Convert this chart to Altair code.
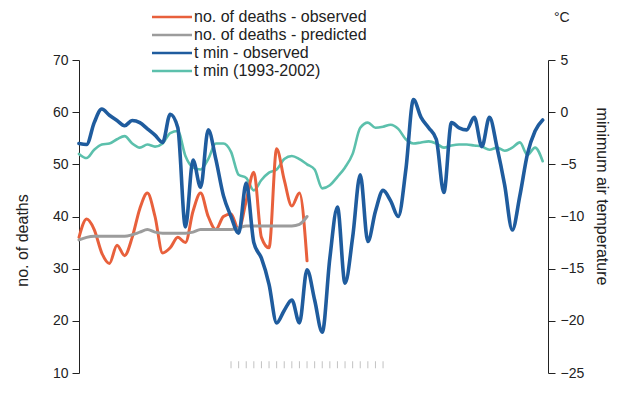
import altair as alt
import pandas as pd

# ---- data ----
series_names = ["no. of deaths - observed", "no. of deaths - predicted",
                "t min - observed", "t min (1993-2002)"]
series_colors = ["#E8603C", "#9C9C9C", "#1F5C9E", "#5CC0AC"]

# day index: 0 = 1-Dec
deaths_obs = [36, 39.5, 37.5, 33, 31, 34.5, 32.5, 36, 41.5, 44.5,
              40, 33, 34, 36, 35, 41, 44.5, 40, 37.5, 40,
              40.5, 37.5, 43, 48.5, 36, 34, 53, 47, 42, 44.5,
              31.5]
deaths_pred = [35.5, 36, 36.2, 36.2, 36.2, 36.2, 36.2, 36.5, 37, 37.5,
               37, 36.8, 36.8, 36.8, 36.8, 37, 37.5, 37.5, 37.5, 37.5,
               37.5, 37.8, 38.2, 38.2, 38.2, 38.2, 38.2, 38.2, 38.2, 38.5,
               40]
tmin_obs = [-3.0, -3.1, -1.0, 0.3, -0.3, -0.8, -1.3, -0.8, -1.0, -1.6,
            -2.2, -2.9, -0.2, -1.5, -11.0, -4.6, -7.2, -1.7, -4.5, -8.0,
            -10.0, -11.6, -6.8, -12.5, -14.0, -16.5, -20.2, -19.0, -18.0, -20.2,
            -15.1, -18.0, -21.1, -14.0, -9.1, -16.4, -12.0, -6.0, -12.4, -9.5,
            -7.5, -8.5, -10.0, -5.5, 1.2, -0.5, -1.5, -2.6, -7.7, -1.0,
            -1.5, -1.7, -0.5, -3.3, -0.5, -3.4, -7.0, -11.3, -8.0, -4.0,
            -1.8, -0.75]
tmin_norm = [-4.0, -4.4, -3.6, -3.1, -3.0, -2.6, -2.3, -3.0, -3.4, -3.1,
             -3.3, -3.0, -2.0, -1.8, -4.2, -5.3, -5.5, -4.5, -3.0, -3.0,
             -3.8, -6.0, -6.3, -7.5, -6.5, -5.8, -5.5, -4.5, -4.2, -4.5,
             -5.0, -5.5, -7.3, -7.0, -6.2, -5.3, -4.0, -1.5, -1.0, -1.5,
             -1.4, -1.2, -1.6, -2.6, -3.0, -2.9, -2.8, -3.0, -3.4, -3.2,
             -3.1, -3.1, -3.2, -3.3, -3.6, -3.4, -3.7, -3.4, -2.9, -4.1,
             -3.4, -4.7]

x_tick_days = [0, 10, 20, 30, 40, 50, 60]
x_tick_labels = ["1-Dec", "11-Dec", "21-Dec", "31-Dec", "10-Jan", "20-Jan", "30-Jan"]
deaths_ticks = [10, 20, 30, 40, 50, 60, 70]
temp_ticks = [-25, -20, -15, -10, -5, 0, 5]

period_start, period_end, period_top = 19.5, 41.0, 62.3
marker_days = [20, 21, 22, 23, 24, 25, 26, 27, 28, 29, 30,
               31, 32, 33, 34, 35, 36, 37, 38, 39, 40]
marker_level = 11.6

X_DOMAIN = [0, 61.7]
D_DOMAIN = [10, 70]
T_DOMAIN = [-25, 5]
FONT = "Liberation Sans"


def frame(values, name):
    return pd.DataFrame({"day": list(range(len(values))), "value": values, "series": name})


df_dobs = frame(deaths_obs, series_names[0])
df_dpred = frame(deaths_pred, series_names[1])
df_tobs = frame(tmin_obs, series_names[2])
df_tnorm = frame(tmin_norm, series_names[3])

label_expr = "[" + ",".join(f"'{l}'" for l in x_tick_labels) + "][round(datum.value/10)]"

x_axis = alt.Axis(values=x_tick_days, labelExpr=label_expr, title=None, grid=False,
                  domainColor="#222", tickColor="#222", tickSize=6, labelFontSize=14,
                  labelFont=FONT, labelColor="#222", labelPadding=3)
x_enc = alt.X("day:Q", scale=alt.Scale(domain=X_DOMAIN, nice=False, zero=False), axis=x_axis)
x_none = alt.X("day:Q", scale=alt.Scale(domain=X_DOMAIN, nice=False, zero=False), axis=None)

color = alt.Color("series:N",
                  scale=alt.Scale(domain=series_names, range=series_colors),
                  legend=alt.Legend(orient="none", legendX=85, legendY=-51, title=None,
                                    symbolType="M -4 0 L 4 0", symbolSize=100,
                                    symbolStrokeWidth=2.5, labelFontSize=16,
                                    labelFont=FONT, labelColor="#222", labelLimit=0,
                                    labelOffset=14, rowPadding=2, padding=0))

left_axis = alt.Axis(values=deaths_ticks, orient="left", title="no. of deaths", grid=False,
                     domainColor="#222", tickColor="#222", tickSize=7, labelFontSize=14,
                     labelFont=FONT, labelColor="#222", labelPadding=4,
                     titleFont=FONT, titleFontSize=16, titleFontWeight="normal",
                     titleColor="#222", titleX=-57, titleY=180, titleAngle=-90,
                     titleAlign="center", titleBaseline="middle")
right_axis = alt.Axis(values=temp_ticks, orient="right", title="minimum air temperature",
                      grid=False, domainColor="#222", tickColor="#222", tickSize=7,
                      labelFontSize=14, labelFont=FONT, labelColor="#222", labelPadding=5,
                      titleFont=FONT, titleFontSize=16, titleFontWeight="normal",
                      titleColor="#222", titleX=53, titleY=136, titleAngle=90,
                      titleAlign="center", titleBaseline="middle")

shade_df = pd.DataFrame({"x": [period_start], "x2": [period_end],
                         "y": [D_DOMAIN[0]], "y2": [period_top]})
shade = alt.Chart(shade_df).mark_rect(color="#E4E4E4").encode(
    x=x_enc, x2="x2:Q",
    y=alt.Y("y:Q", scale=alt.Scale(domain=D_DOMAIN, nice=False, zero=False), axis=None),
    y2="y2:Q")

marker_df = pd.DataFrame({"day": marker_days, "value": [marker_level] * len(marker_days)})
markers = alt.Chart(marker_df).mark_tick(color="#A8A8A8", orient="vertical",
                                         size=7, thickness=1).encode(
    x=x_none,
    y=alt.Y("value:Q", scale=alt.Scale(domain=D_DOMAIN, nice=False, zero=False), axis=None))


def line(df, domain, axis, width):
    return alt.Chart(df).mark_line(interpolate="monotone", strokeWidth=width,
                                   strokeJoin="round", strokeCap="round").encode(
        x=x_none,
        y=alt.Y("value:Q", scale=alt.Scale(domain=domain, nice=False, zero=False),
                axis=axis),
        color=color)


l_tnorm = line(df_tnorm, T_DOMAIN, right_axis, 2.6)
l_dobs = line(df_dobs, D_DOMAIN, left_axis, 3)
l_dpred = line(df_dpred, D_DOMAIN, None, 3)
l_tobs = line(df_tobs, T_DOMAIN, None, 3.6)

unit_df = pd.DataFrame({"t": ["°C"]})
unit = alt.Chart(unit_df).mark_text(font=FONT, fontSize=14, color="#222",
                                    align="left", baseline="middle").encode(
    x=alt.value(475), y=alt.value(-42), text="t:N")

chart = alt.layer(shade, markers, l_tnorm, l_dobs, l_dpred, l_tobs, unit).resolve_scale(
    y="independent"
).properties(
    width=469, height=313,
    padding={"left": 71, "top": 52, "right": 62, "bottom": 24},
    autosize=alt.AutoSizeParams(type="none"),
    background="white",
).configure_view(stroke=None)

chart.save("out.html", embed_options={"renderer": "svg", "actions": False})
